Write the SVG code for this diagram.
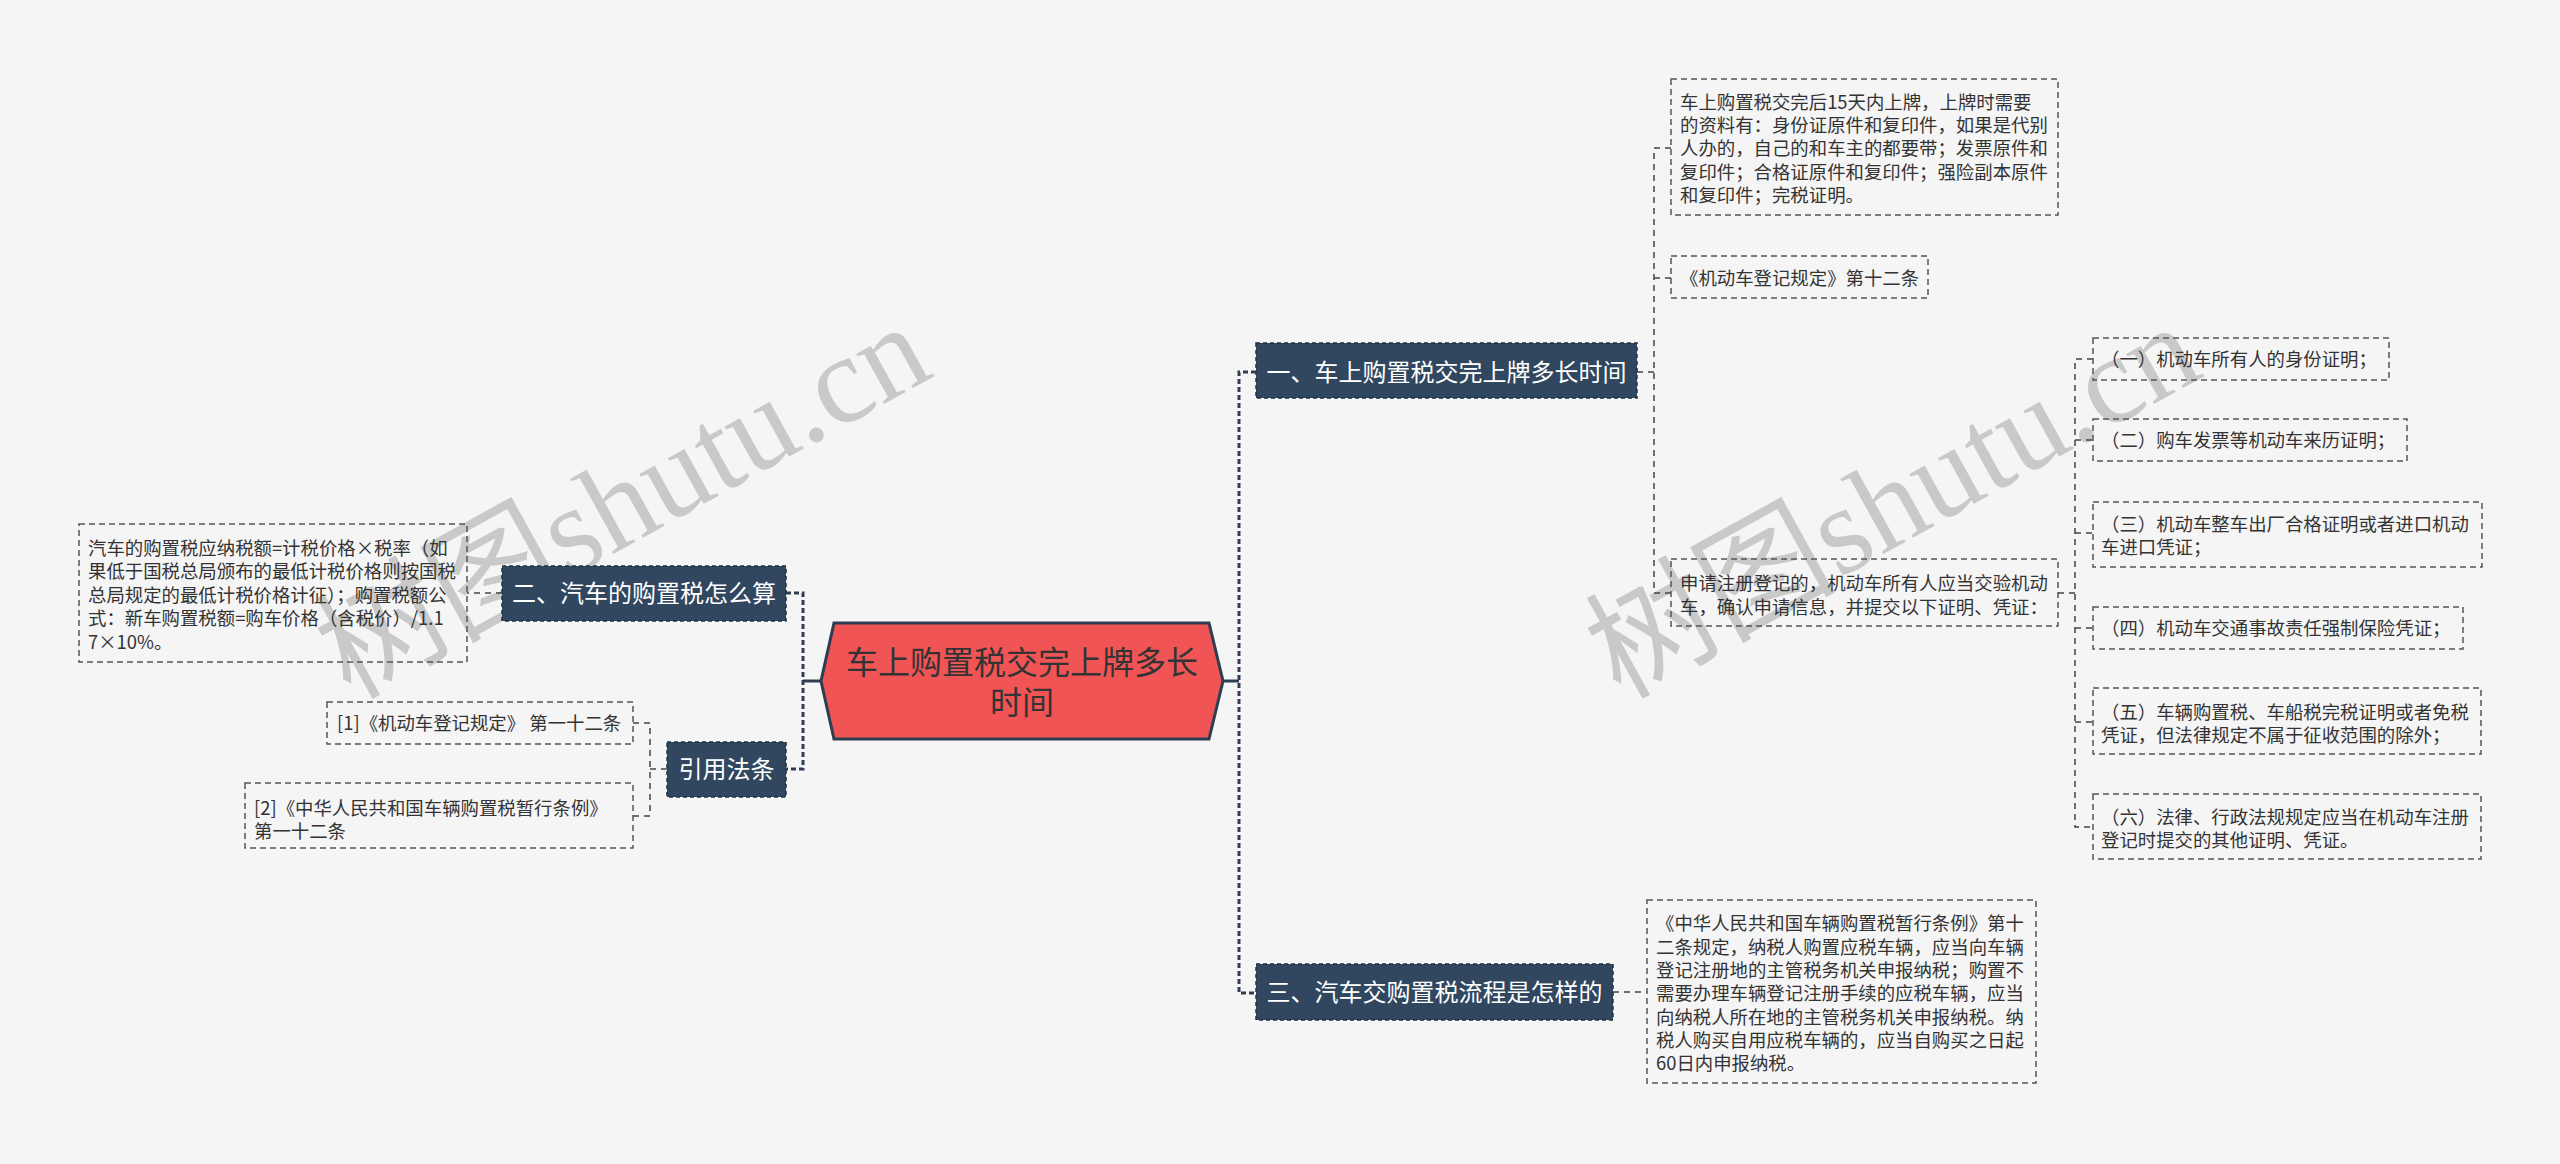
<svg xmlns="http://www.w3.org/2000/svg" width="2560" height="1164" viewBox="0 0 2560 1164">
<style>
.leaf{fill:none;stroke:#555;stroke-width:1.5;stroke-dasharray:6 4}
.lt{font-family:"Noto Sans CJK SC","Noto Sans",sans-serif;font-size:18.4px;fill:#333}
.main{fill:#30475f;stroke:#1f3043;stroke-width:1.5;stroke-dasharray:4 3}
.mt{font-family:"Noto Sans CJK SC","Noto Sans",sans-serif;font-size:24px;fill:#fff;text-anchor:middle}
.c1{fill:none;stroke:#2e3e50;stroke-width:3;stroke-dasharray:5 3}
.c2{fill:none;stroke:#444;stroke-width:1.5;stroke-dasharray:6 5}
.wm{font-family:"Liberation Serif","Noto Sans CJK SC",serif;font-size:125px;fill:#c9c9c9}
</style>
<rect width="2560" height="1164" fill="#f5f5f5"/>
<g id="watermark">
<text class="wm" x="350" y="700" transform="rotate(-29 350 700)">树图shutu.cn</text>
<text class="wm" x="1620" y="700" transform="rotate(-29 1620 700)">树图shutu.cn</text>
</g>
<g id="connectors">
<line x1="1223" y1="681" x2="1239" y2="681" stroke="#2e3e50" stroke-width="3"/>
<line x1="821" y1="681" x2="803" y2="681" stroke="#2e3e50" stroke-width="3"/>
<path class="c1" d="M1256 372 H1239 V993 H1256"/>
<path class="c1" d="M786 593 H803 V769 H786"/>
<path class="c2" d="M1637 372 H1654"/>
<path class="c2" d="M1671 148 H1654 V593 H1671 M1654 278 H1671"/>
<path class="c2" d="M2058 593 H2075"/>
<path class="c2" d="M2093 359 H2075 V827 H2093 M2075 440 H2093 M2075 533 H2093 M2075 628 H2093 M2075 722 H2093"/>
<path class="c2" d="M1613 992 H1647"/>
<path class="c2" d="M502 593 H467"/>
<path class="c2" d="M667 769 H650"/>
<path class="c2" d="M633 723 H650 V816 H633"/>
</g>
<g id="center">
<polygon points="834,623 1209,623 1223,681 1209,739 834,739 821,681" fill="#f05455" stroke="#2e3e50" stroke-width="3"/>
<text font-family="Noto Sans CJK SC, sans-serif" font-size="32" fill="#333" text-anchor="middle"><tspan x="1022" y="674">车上购置税交完上牌多长</tspan><tspan x="1022" y="714">时间</tspan></text>
</g>
<g id="n1">
<rect class="main" x="1256" y="343" width="381" height="55"/>
<text class="mt" x="1446.5" y="381">一、车上购置税交完上牌多长时间</text>
</g>
<g id="n2">
<rect class="main" x="502" y="566" width="284" height="55"/>
<text class="mt" x="644" y="602">二、汽车的购置税怎么算</text>
</g>
<g id="n3">
<rect class="main" x="1256" y="964" width="357" height="56"/>
<text class="mt" x="1434.5" y="1001">三、汽车交购置税流程是怎样的</text>
</g>
<g id="n4">
<rect class="main" x="667" y="742" width="119" height="55"/>
<text class="mt" x="726.5" y="778">引用法条</text>
</g>
<g id="b1">
<rect class="leaf" x="1671" y="79" width="387" height="136"/>
<text class="lt"><tspan x="1680" y="108.8">车上购置税交完后15天内上牌，上牌时需要</tspan><tspan x="1680" y="132.1">的资料有：身份证原件和复印件，如果是代别</tspan><tspan x="1680" y="155.4">人办的，自己的和车主的都要带；发票原件和</tspan><tspan x="1680" y="178.7">复印件；合格证原件和复印件；强险副本原件</tspan><tspan x="1680" y="202">和复印件；完税证明。</tspan></text>
</g>
<g id="b2">
<rect class="leaf" x="1671" y="256" width="257" height="42"/>
<text class="lt" x="1680" y="284.8">《机动车登记规定》第十二条</text>
</g>
<g id="b3">
<rect class="leaf" x="1671" y="559" width="387" height="67"/>
<text class="lt"><tspan x="1680" y="590.1">申请注册登记的，机动车所有人应当交验机动</tspan><tspan x="1680" y="613.5">车，确认申请信息，并提交以下证明、凭证：</tspan></text>
</g>
<g id="c1">
<rect class="leaf" x="2093" y="338" width="296" height="42"/>
<text class="lt" x="2101" y="365.8">（一）机动车所有人的身份证明；</text>
</g>
<g id="c2">
<rect class="leaf" x="2093" y="419" width="314" height="42"/>
<text class="lt" x="2101" y="446.8">（二）购车发票等机动车来历证明；</text>
</g>
<g id="c3">
<rect class="leaf" x="2093" y="502" width="389" height="65"/>
<text class="lt"><tspan x="2101" y="530.8">（三）机动车整车出厂合格证明或者进口机动</tspan><tspan x="2101" y="553.5">车进口凭证；</tspan></text>
</g>
<g id="c4">
<rect class="leaf" x="2093" y="607" width="370" height="42"/>
<text class="lt" x="2101" y="634.8">（四）机动车交通事故责任强制保险凭证；</text>
</g>
<g id="c5">
<rect class="leaf" x="2093" y="688" width="388" height="66"/>
<text class="lt"><tspan x="2101" y="718.5">（五）车辆购置税、车船税完税证明或者免税</tspan><tspan x="2101" y="741.8">凭证，但法律规定不属于征收范围的除外；</tspan></text>
</g>
<g id="c6">
<rect class="leaf" x="2093" y="794" width="388" height="65"/>
<text class="lt"><tspan x="2101" y="823.5">（六）法律、行政法规规定应当在机动车注册</tspan><tspan x="2101" y="846.8">登记时提交的其他证明、凭证。</tspan></text>
</g>
<g id="d1">
<rect class="leaf" x="1647" y="900" width="389" height="183"/>
<text class="lt"><tspan x="1656" y="930.1">《中华人民共和国车辆购置税暂行条例》第十</tspan><tspan x="1656" y="953.5">二条规定，纳税人购置应税车辆，应当向车辆</tspan><tspan x="1656" y="976.8">登记注册地的主管税务机关申报纳税；购置不</tspan><tspan x="1656" y="1000.1">需要办理车辆登记注册手续的应税车辆，应当</tspan><tspan x="1656" y="1023.5">向纳税人所在地的主管税务机关申报纳税。纳</tspan><tspan x="1656" y="1046.8">税人购买自用应税车辆的，应当自购买之日起</tspan><tspan x="1656" y="1070.1">60日内申报纳税。</tspan></text>
</g>
<g id="e1">
<rect class="leaf" x="79" y="524" width="388" height="138"/>
<text class="lt"><tspan x="88" y="555">汽车的购置税应纳税额=计税价格×税率（如</tspan><tspan x="88" y="578.4">果低于国税总局颁布的最低计税价格则按国税</tspan><tspan x="88" y="601.8">总局规定的最低计税价格计征）；购置税额公</tspan><tspan x="88" y="625.2">式：新车购置税额=购车价格（含税价）/1.1</tspan><tspan x="88" y="648.6">7×10%。</tspan></text>
</g>
<g id="f1">
<rect class="leaf" x="327" y="702" width="306" height="42"/>
<text class="lt" x="337" y="730">[1]《机动车登记规定》 第一十二条</text>
</g>
<g id="f2">
<rect class="leaf" x="245" y="783" width="388" height="65"/>
<text class="lt"><tspan x="254" y="814.5">[2]《中华人民共和国车辆购置税暂行条例》</tspan><tspan x="254" y="837.8">第一十二条</tspan></text>
</g>
</svg>
